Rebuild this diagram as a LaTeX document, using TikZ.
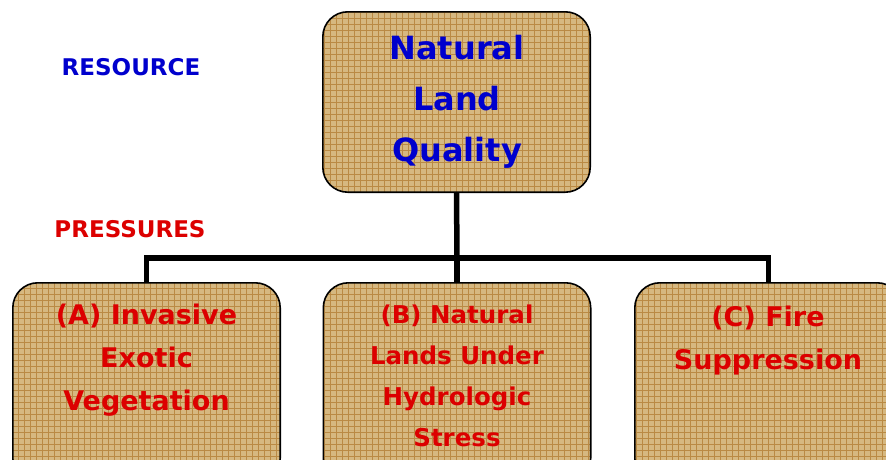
\documentclass[tikz,border=0pt]{standalone}
\usepackage{fontspec}
\setmainfont{DejaVu Sans}
\definecolor{tanbase}{RGB}{214,184,128}
\definecolor{tangrid}{RGB}{186,138,68}
\definecolor{bluetxt}{RGB}{0,0,205}
\definecolor{redtxt}{RGB}{220,0,0}
\begin{document}
\begin{tikzpicture}[x=1pt,y=-1pt,
  box/.style={rounded corners=25pt, fill=tanbase, minimum width=267pt, inner sep=0pt},
  boxedge/.style={draw=black, line width=1.6pt, rounded corners=25pt},
  bluelbl/.style={text=bluetxt, font=\bfseries\fontsize{32}{51}\selectfont, align=center},
  redlbl/.style={text=redtxt, font=\bfseries\fontsize{27}{43}\selectfont, align=center},
  conn/.style={line width=5.5pt}]
\useasboundingbox (0,0) rectangle (886,459);
\clip (0,0) rectangle (886,459);
\node[box, minimum height=180pt] (top) at (456.5,102) {};
\node[box, minimum height=200pt] (A) at (146.5,383) {};
\node[box, minimum height=200pt] (B) at (457,383) {};
\node[box, minimum height=200pt] (C) at (768.5,383) {};
\foreach \n in {top,A,B,C}{
  \begin{scope}
    \clip[rounded corners=25pt] (\n.north west) rectangle (\n.south east);
    \draw[tangrid, line width=1pt] (0.5,0.5) grid[step=6pt] (886.5,465.5);
  \end{scope}
  \draw[boxedge] (\n.north west) rectangle (\n.south east);
}
\coordinate (j) at (457,258);
\draw[conn] (top.south) -- (j);
\draw[conn] (A.north) |- (j) -| (C.north);
\draw[conn] (j) -- (B.north);
\node[bluelbl] (topt) at (457,102) {Natural\\Land\\Quality};
\node[redlbl, anchor=north] (At) at (146.5,300) {(A) Invasive\\Exotic\\Vegetation};
\node[redlbl, anchor=north, font=\bfseries\fontsize{24.5}{41}\selectfont] (Bt) at (457,301) {(B) Natural\\Lands Under\\Hydrologic\\Stress};
\node[redlbl, anchor=north] (Ct) at (768,302) {(C) Fire\\Suppression};
\node[text=bluetxt, font=\bfseries\fontsize{23}{27}\selectfont] (res) at (131,67) {RESOURCE};
\node[text=redtxt, font=\bfseries\fontsize{23}{27}\selectfont] (pres) at (130,229) {PRESSURES};
\end{tikzpicture}
\end{document}
